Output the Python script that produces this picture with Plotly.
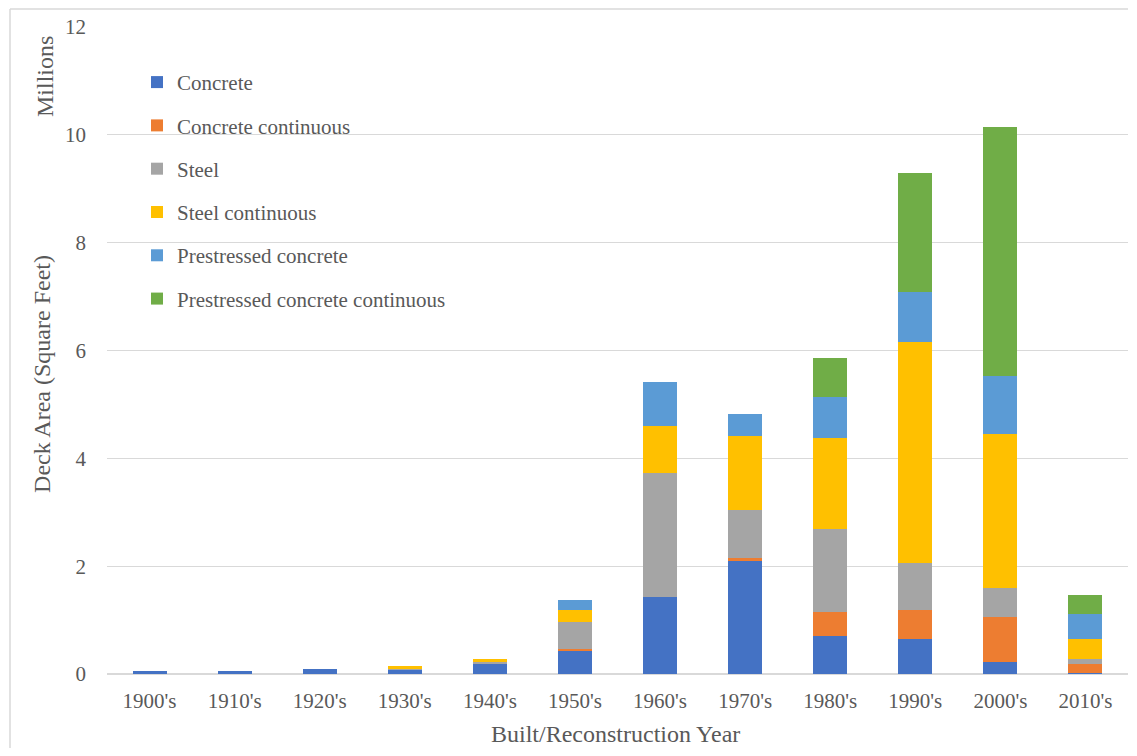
import plotly.graph_objects as go

categories = ["1900's", "1910's", "1920's", "1930's", "1940's", "1950's",
              "1960's", "1970's", "1980's", "1990's", "2000's", "2010's"]

# Deck area in millions of square feet
concrete = [0.06, 0.06, 0.10, 0.09, 0.18, 0.42, 1.42, 2.10, 0.70, 0.64, 0.23, 0.01]
concrete_continuous = [0.0, 0.0, 0.0, 0.0, 0.0, 0.05, 0.0, 0.06, 0.45, 0.54, 0.82, 0.18]
steel = [0.0, 0.0, 0.0, 0.01, 0.05, 0.49, 2.31, 0.89, 1.54, 0.87, 0.54, 0.09]
steel_continuous = [0.0, 0.0, 0.0, 0.05, 0.05, 0.23, 0.87, 1.37, 1.68, 4.11, 2.86, 0.37]
prestressed = [0.0, 0.0, 0.0, 0.0, 0.0, 0.19, 0.82, 0.41, 0.77, 0.92, 1.08, 0.46]
prestressed_continuous = [0.0, 0.0, 0.0, 0.0, 0.0, 0.0, 0.0, 0.0, 0.73, 2.21, 4.62, 0.36]

series = [
    ("Concrete", concrete, "#4472C4"),
    ("Concrete continuous", concrete_continuous, "#ED7D31"),
    ("Steel", steel, "#A5A5A5"),
    ("Steel continuous", steel_continuous, "#FFC000"),
    ("Prestressed concrete", prestressed, "#5B9BD5"),
    ("Prestressed concrete continuous", prestressed_continuous, "#70AD47"),
]

FONT = "Liberation Serif"
TXT = "#595959"

fig = go.Figure()
for i, (name, vals, col) in enumerate(series):
    fig.add_trace(go.Bar(
        x=categories, y=vals, name=name, legendgroup=f"g{i}",
        marker=dict(color=col, line=dict(width=0)),
    ))

fig.update_layout(
    width=1120, height=740,
    barmode="stack", bargap=0.6,
    plot_bgcolor="white", paper_bgcolor="white",
    margin=dict(l=99, r=0, t=19, b=74),
    font=dict(family=FONT, color=TXT),
    legend=dict(
        x=0.0294, y=0.946, xanchor="left", yanchor="top",
        traceorder="grouped", tracegroupgap=13,
        font=dict(family=FONT, size=21, color=TXT),
        bgcolor="rgba(0,0,0,0)", itemwidth=30,
    ),
    xaxis=dict(
        showgrid=False, showline=False, ticks="",
        tickfont=dict(family=FONT, size=21, color=TXT),
        ticklabelstandoff=12,
    ),
    yaxis=dict(
        range=[0, 12], dtick=2, showgrid=True, gridcolor="#d9d9d9", gridwidth=1,
        zeroline=True, zerolinecolor="#d9d9d9", zerolinewidth=1.5,
        showline=False, ticks="",
        tickfont=dict(family=FONT, size=21, color=TXT),
        ticklabelstandoff=20,
    ),
    annotations=[
        dict(text="Deck Area (Square Feet)", xref="paper", yref="paper",
             x=-0.0637, y=0.4637, textangle=-90, showarrow=False,
             xanchor="center", yanchor="middle",
             font=dict(family=FONT, size=24, color=TXT)),
        dict(text="Millions", xref="paper", yref="paper",
             x=-0.0607, y=0.9227, textangle=-90, showarrow=False,
             xanchor="center", yanchor="middle",
             font=dict(family=FONT, size=24, color=TXT)),
        dict(text="Built/Reconstruction Year", xref="paper", yref="paper",
             x=0.4976, y=-0.0935, showarrow=False, xanchor="center", yanchor="middle",
             font=dict(family=FONT, size=24, color=TXT)),
    ],
    shapes=[
        dict(type="line", xref="paper", yref="paper", x0=-0.095, x1=1.02,
             y0=1.0278, y1=1.0278, line=dict(color="#d9d9d9", width=1.5)),
        dict(type="line", xref="paper", yref="paper", x0=-0.095, x1=-0.095,
             y0=1.0278, y1=-0.2, line=dict(color="#d9d9d9", width=1.5)),
    ],
)

fig.write_html("out.html")
